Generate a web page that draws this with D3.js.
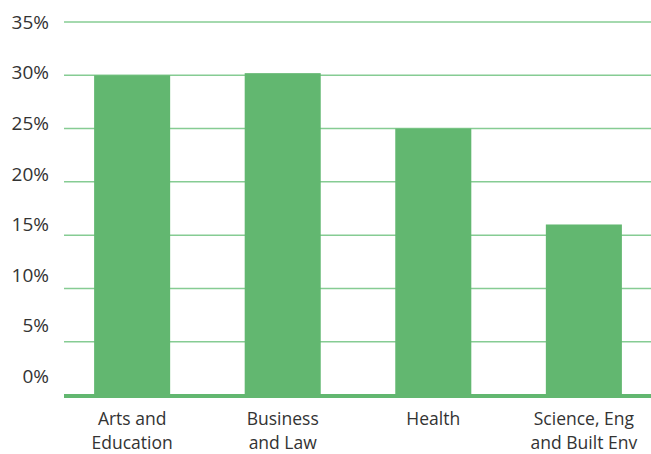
<!DOCTYPE html>
<html>
<head>
<meta charset="utf-8">
<script src="https://cdn.jsdelivr.net/npm/d3@7"></script>
<style>
  body { margin: 0; background: #fff; }
  text { font-family: "Open Sans", sans-serif; fill: #333; }
</style>
</head>
<body>
<div id="chart"></div>
<script>
// data
const categories = ["Arts and Education", "Business and Law", "Health", "Science, Eng and Built Env"];
const labelLines = [["Arts and", "Education"], ["Business", "and Law"], ["Health"], ["Science, Eng", "and Built Env"]];
const shares = [0.300, 0.302, 0.250, 0.160];
const yTicks = [0, 0.05, 0.10, 0.15, 0.20, 0.25, 0.30, 0.35];

const W = 651, H = 454;
const barColor = "#62b770";
const gridColor = "#86cc93";

const svg = d3.select("#chart")
  .append("svg")
  .attr("width", W)
  .attr("height", H);

const x = d3.scaleBand()
  .domain(categories)
  .range([64, 652])
  .paddingInner(0.495)
  .paddingOuter(0.2);

const y = d3.scaleLinear()
  .domain([0, 0.35])
  .range([395, 22]);

// the tick labels in the original drift a bit higher than their gridlines
const yLabel = d3.scaleLinear()
  .domain([0, 0.35])
  .range([376, 22]);

// gridlines
svg.append("g")
  .selectAll("line")
  .data(yTicks.filter(d => d > 0))
  .join("line")
  .attr("x1", 64)
  .attr("x2", W)
  .attr("y1", d => y(d))
  .attr("y2", d => y(d))
  .attr("stroke", gridColor)
  .attr("stroke-width", 1.5);

// tick labels
svg.append("g")
  .selectAll("text")
  .data(yTicks)
  .join("text")
  .attr("x", 49)
  .attr("y", d => yLabel(d))
  .attr("dy", "0.36em")
  .attr("text-anchor", "end")
  .style("font-size", "19px")
  .text(d => d3.format(".0%")(d));

// bars
svg.append("g")
  .attr("fill", barColor)
  .selectAll("rect")
  .data(shares)
  .join("rect")
  .attr("x", (d, i) => x(categories[i]))
  .attr("y", d => y(d))
  .attr("width", x.bandwidth())
  .attr("height", d => y(0) - y(d));

// baseline
svg.append("line")
  .attr("x1", 64)
  .attr("x2", W)
  .attr("y1", y(0) + 1)
  .attr("y2", y(0) + 1)
  .attr("stroke", barColor)
  .attr("stroke-width", 4);

// category labels, one text per line
const cat = svg.append("g")
  .selectAll("g")
  .data(categories)
  .join("g")
  .attr("transform", d => `translate(${x(d) + x.bandwidth() / 2},0)`);

cat.selectAll("text")
  .data((d, i) => labelLines[i])
  .join("text")
  .attr("y", (d, i) => 425 + i * 24)
  .attr("text-anchor", "middle")
  .style("font-size", "17.5px")
  .text(d => d);
</script>
</body>
</html>
